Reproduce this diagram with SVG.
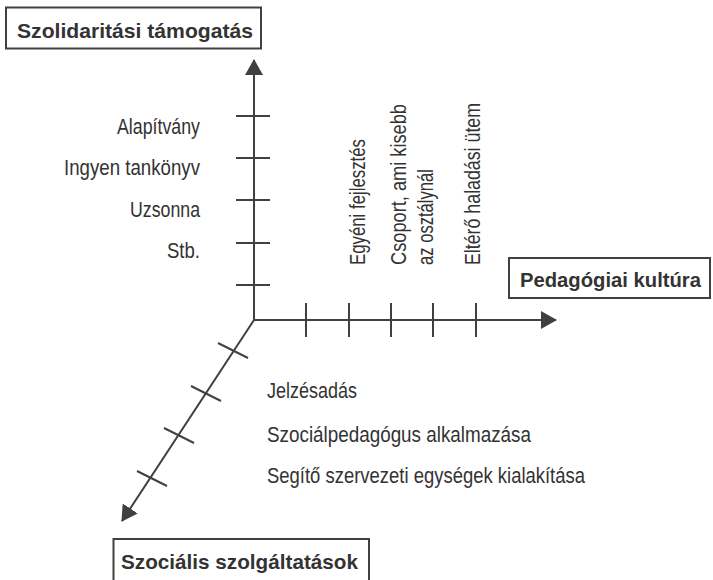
<svg xmlns="http://www.w3.org/2000/svg" width="713" height="580" viewBox="0 0 713 580">
<style>
.ax{stroke:#404040;stroke-width:2;fill:none}
.tk{stroke:#404040;stroke-width:2;fill:none}
.box{fill:#fff;stroke:#404040;stroke-width:2}
.title{font-family:"Liberation Sans",Arial,sans-serif;font-size:21px;font-weight:bold;fill:#333}
.lbl{font-family:"Liberation Sans",Arial,sans-serif;font-size:21.5px;fill:#333}
</style>
<defs>
<marker id="arr" viewBox="0 0 16 18" refX="15" refY="9" markerWidth="16" markerHeight="18" markerUnits="userSpaceOnUse" orient="auto">
<path d="M0,0 L16,9 L0,18 z" fill="#404040"/>
</marker>
</defs>
<rect width="713" height="580" fill="#fff"/>
<g id="connectors">
<line class="ax" x1="254" y1="320" x2="254" y2="60" marker-end="url(#arr)"/>
<line class="ax" x1="254" y1="320" x2="556" y2="320" marker-end="url(#arr)"/>
<line class="ax" x1="254" y1="320" x2="122" y2="521" marker-end="url(#arr)"/>
<g id="ticks-y">
<line class="tk" x1="236" y1="116" x2="270" y2="116"/>
<line class="tk" x1="236" y1="158" x2="270" y2="158"/>
<line class="tk" x1="236" y1="200" x2="270" y2="200"/>
<line class="tk" x1="236" y1="243" x2="270" y2="243"/>
<line class="tk" x1="236" y1="285" x2="270" y2="285"/>
</g>
<g id="ticks-x">
<line class="tk" x1="306" y1="303" x2="306" y2="337"/>
<line class="tk" x1="349" y1="303" x2="349" y2="337"/>
<line class="tk" x1="391" y1="303" x2="391" y2="337"/>
<line class="tk" x1="433" y1="303" x2="433" y2="337"/>
<line class="tk" x1="476" y1="303" x2="476" y2="337"/>
</g>
<g id="ticks-z">
<line class="tk" x1="218" y1="343" x2="248" y2="358"/>
<line class="tk" x1="191" y1="386" x2="221" y2="401"/>
<line class="tk" x1="164" y1="428" x2="194" y2="443"/>
<line class="tk" x1="137" y1="471" x2="167" y2="486"/>
</g>
</g>
<g id="node-szolidaritasi">
<rect class="box" x="6" y="7.5" width="255" height="41"/>
<text class="title" x="17" y="37.5" textLength="236" lengthAdjust="spacingAndGlyphs">Szolidaritási támogatás</text>
</g>
<g id="node-pedagogiai">
<rect class="box" x="509" y="258" width="201" height="40"/>
<text class="title" x="520" y="286.5" textLength="181" lengthAdjust="spacingAndGlyphs">Pedagógiai kultúra</text>
</g>
<g id="node-szocialis">
<rect class="box" x="113.5" y="539" width="255.5" height="44"/>
<text class="title" x="121" y="568.5" textLength="237" lengthAdjust="spacingAndGlyphs">Szociális szolgáltatások</text>
</g>
<g id="labels-y">
<text class="lbl" x="200" y="134" text-anchor="end" textLength="83" lengthAdjust="spacingAndGlyphs">Alapítvány</text>
<text class="lbl" x="200" y="175" text-anchor="end" textLength="136" lengthAdjust="spacingAndGlyphs">Ingyen tankönyv</text>
<text class="lbl" x="200" y="217" text-anchor="end" textLength="70" lengthAdjust="spacingAndGlyphs">Uzsonna</text>
<text class="lbl" x="200" y="258" text-anchor="end" textLength="33" lengthAdjust="spacingAndGlyphs">Stb.</text>
</g>
<g id="labels-x">
<text class="lbl" transform="translate(365,265) rotate(-90)" textLength="126" lengthAdjust="spacingAndGlyphs">Egyéni fejlesztés</text>
<text class="lbl" transform="translate(406,265) rotate(-90)" textLength="161" lengthAdjust="spacingAndGlyphs">Csoport, ami kisebb</text>
<text class="lbl" transform="translate(433,265) rotate(-90)" textLength="96" lengthAdjust="spacingAndGlyphs">az osztálynál</text>
<text class="lbl" transform="translate(480,265) rotate(-90)" textLength="162" lengthAdjust="spacingAndGlyphs">Eltérő haladási ütem</text>
</g>
<g id="labels-z">
<text class="lbl" x="267" y="398" textLength="90" lengthAdjust="spacingAndGlyphs">Jelzésadás</text>
<text class="lbl" x="267" y="442" textLength="264" lengthAdjust="spacingAndGlyphs">Szociálpedagógus alkalmazása</text>
<text class="lbl" x="267" y="483" textLength="318" lengthAdjust="spacingAndGlyphs">Segítő szervezeti egységek kialakítása</text>
</g>
</svg>
